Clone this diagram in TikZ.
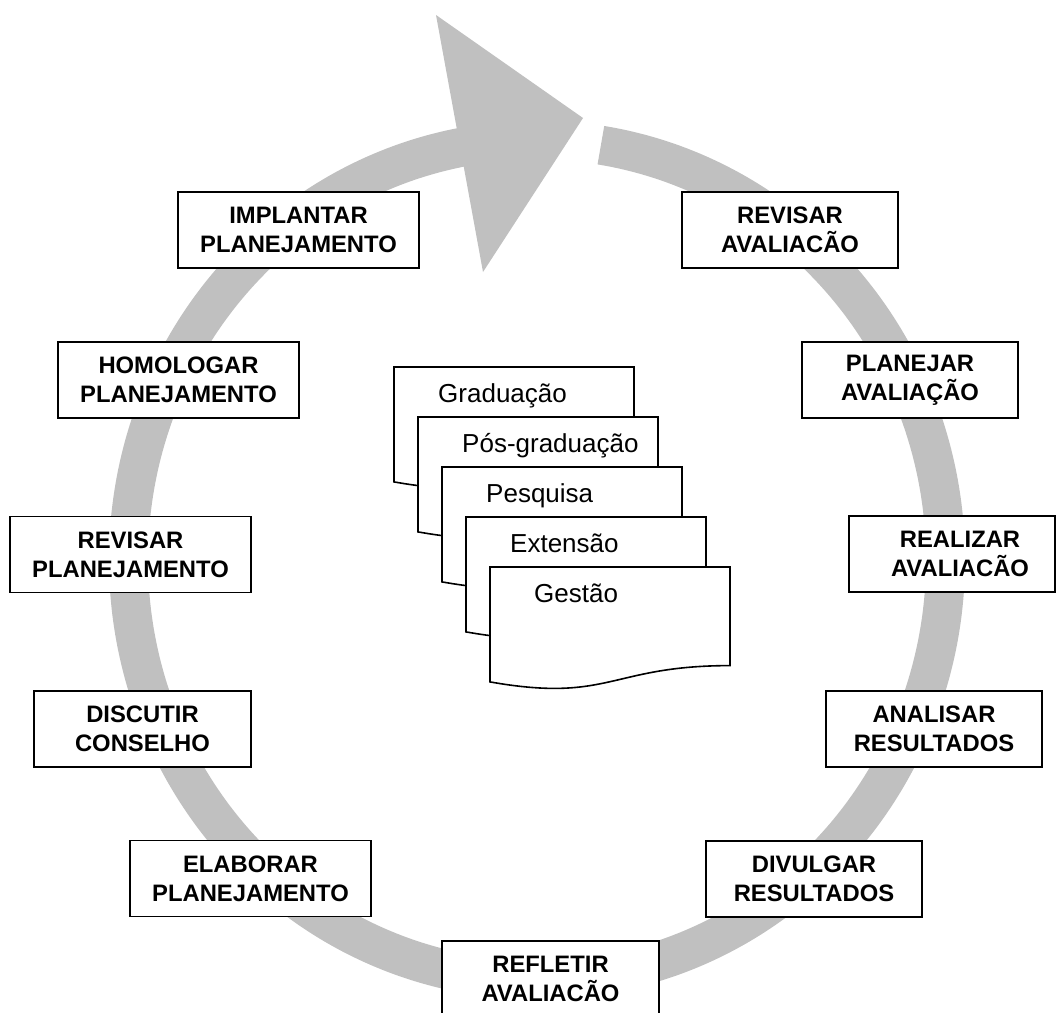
\documentclass[tikz,border=0pt]{standalone}
\usepackage{fontspec}
\setmainfont{Liberation Sans}
\definecolor{ringgray}{RGB}{192,192,192}
\begin{document}
\begin{tikzpicture}[x=1pt,y=-1pt,
  stepbox/.style={draw=black, line width=1.6pt, fill=white, align=center, inner sep=0pt, minimum height=76pt, font=\bfseries\fontsize{23.8}{29}\selectfont},
  wide/.style={stepbox, minimum width=241pt},
  narrow/.style={stepbox, minimum width=216pt},
  docshape/.style={draw=black, line width=1.6pt, fill=white, line join=miter},
  doctext/.style={anchor=base west, inner sep=0pt, font=\fontsize{26}{31}\selectfont}]
\clip (0,0) rectangle (1056,1012);
\fill[white] (0,0) rectangle (1056,1012);
% ring
\draw[ringgray, line width=39pt] plot[domain=-81:262, samples=240, smooth] ({537+408.5*cos(\x)}, {560+420*sin(\x)});
\fill[ringgray] (436,15) -- (583,118) -- (483,272) -- cycle;
% boxes
\node[wide] (implantar) at (298.5,230) {IMPLANTAR\\PLANEJAMENTO};
\node[wide] (homologar) at (178.5,380) {HOMOLOGAR\\PLANEJAMENTO};
\node[wide] (revisarp) at (130.5,554.5) {REVISAR\\PLANEJAMENTO};
\node[stepbox, minimum width=217pt] (discutir) at (142.5,729) {DISCUTIR\\CONSELHO};
\node[wide] (elaborar) at (250.5,878.5) {ELABORAR\\PLANEJAMENTO};
\node[stepbox, minimum width=217pt] (refletir) at (550.5,979) {REFLETIR\\AVALIACÃO};
\node[narrow] (divulgar) at (814,879) {DIVULGAR\\RESULTADOS};
\node[narrow] (analisar) at (934,729) {ANALISAR\\RESULTADOS};
\node[stepbox, minimum width=206pt] (realizar) at (952,554) {\hspace*{16pt}REALIZAR\\\hspace*{16pt}AVALIACÃO};
\node[narrow] (planejar) at (910,380) {PLANEJAR\\AVALIAÇÃO};
\node[narrow] (revisara) at (790,230) {REVISAR\\AVALIACÃO};
% documents
\filldraw[docshape] (394,367) -- (634,367) -- (634,465.6) .. controls (514,465.6) and (514,503.1) .. (394,481.9) -- cycle;
\node[doctext] (grad) at (438,402.5) {Graduação};
\filldraw[docshape] (418,417) -- (658,417) -- (658,515.6) .. controls (538,515.6) and (538,553.1) .. (418,531.9) -- cycle;
\node[doctext] (posgrad) at (462,452.5) {Pós-graduação};
\filldraw[docshape] (442,467) -- (682,467) -- (682,565.6) .. controls (562,565.6) and (562,603.1) .. (442,581.9) -- cycle;
\node[doctext] (pesquisa) at (486,502.5) {Pesquisa};
\filldraw[docshape] (466,517) -- (706,517) -- (706,615.6) .. controls (586,615.6) and (586,653.1) .. (466,631.9) -- cycle;
\node[doctext] (extensao) at (510,552.5) {Extensão};
\filldraw[docshape] (490,567) -- (730,567) -- (730,665.6) .. controls (610,665.6) and (610,703.1) .. (490,681.9) -- cycle;
\node[doctext] (gestao) at (534,602.5) {Gestão};
\end{tikzpicture}
\end{document}
